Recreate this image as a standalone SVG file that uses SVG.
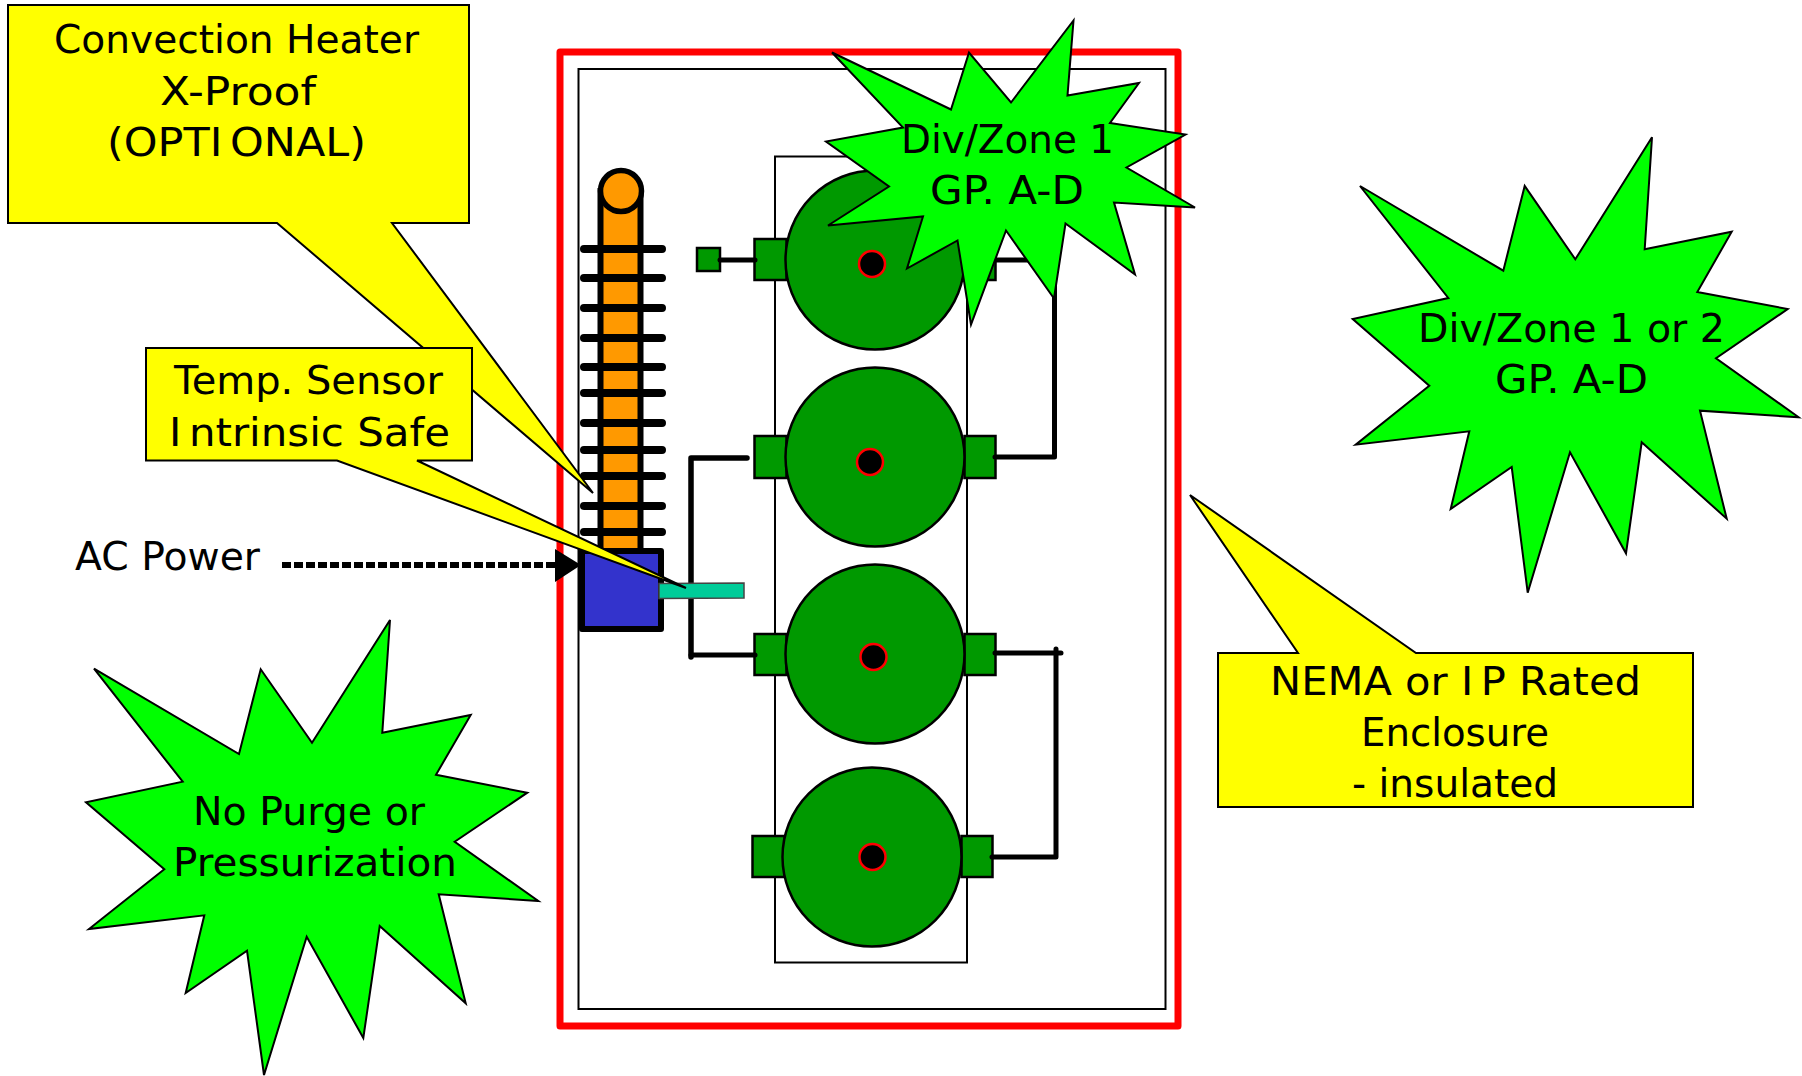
<svg xmlns="http://www.w3.org/2000/svg" width="1802" height="1076" viewBox="0 0 1802 1076">
<style>
.t{font-family:"DejaVu Sans","Liberation Sans",sans-serif;font-size:39px;fill:#000}
.co{fill:#ff0;stroke:#000;stroke-width:2;stroke-linejoin:miter}
.st{fill:#0f0;stroke:#000;stroke-width:2;stroke-linejoin:miter}
.mo{fill:#090;stroke:#000;stroke-width:2.5}
.hole{fill:#000;stroke:#f00;stroke-width:2.5}
.box{fill:none;stroke:#000;stroke-width:2}
.w{fill:none;stroke:#000;stroke-width:5;stroke-linecap:round;stroke-linejoin:round}
.fin{stroke:#000;stroke-width:8;stroke-linecap:round}
</style>
<rect width="1802" height="1076" fill="#fff"/>
<g id="enclosure">
<rect x="560" y="52" width="618" height="974" fill="none" stroke="#f00" stroke-width="7" stroke-linejoin="round"/>
<rect x="578.500" y="69" width="587" height="940" class="box"/>
<rect x="775" y="156.500" width="192" height="806" class="box"/>
</g>
<g id="motor1">
<rect x="754.500" y="239" width="32" height="41" class="mo"/><rect x="964.500" y="239" width="31" height="41" class="mo"/>
<circle cx="875" cy="260" r="89.5" class="mo"/><circle cx="872" cy="264" r="13" class="hole"/>
</g>
<g id="motor2">
<rect x="754.500" y="436" width="32" height="42" class="mo"/><rect x="964.500" y="436" width="31" height="42" class="mo"/>
<circle cx="875" cy="457" r="89.5" class="mo"/><circle cx="870" cy="462" r="13" class="hole"/>
</g>
<g id="motor3">
<rect x="754.500" y="634" width="32" height="41" class="mo"/><rect x="964.500" y="634" width="31" height="41" class="mo"/>
<circle cx="875" cy="654" r="89.5" class="mo"/><circle cx="873.500" cy="657" r="13" class="hole"/>
</g>
<g id="motor4">
<rect x="752.500" y="836" width="32" height="41" class="mo"/><rect x="961.500" y="836" width="31" height="41" class="mo"/>
<circle cx="872" cy="857" r="89.5" class="mo"/><circle cx="872.500" cy="857" r="13" class="hole"/>
</g>
<g id="small-box"><rect x="697" y="248" width="23" height="23" class="mo"/></g>
<g id="connectors">
<path class="w" d="M720 260H755"/>
<path class="w" d="M995 260H1054.500V457H995"/>
<path class="w" d="M995 653H1061M1056 649V857H992"/>
<path class="w" d="M747 458H691V657" style="stroke-width:5.500"/>
<path class="w" d="M691 655H755"/>
<path d="M282 565H556" fill="none" stroke="#000" stroke-width="6" stroke-dasharray="9 3"/>
<polygon points="555,549 581,565 555,582" fill="#000"/>
</g>
<g id="heater">
<rect x="600.500" y="191" width="40" height="360" fill="#f90" stroke="#000" stroke-width="6"/>
<circle cx="621" cy="191" r="20.500" fill="#f90" stroke="#000" stroke-width="5.500"/>
<path class="fin" d="M584 249H662M584 278H662M584 308H662M584 338H662M584 367H662M584 393H662M584 423H662M584 450H662M584 476H662M584 506H662M584 532H662"/>
</g>
<g id="control-box">
<rect x="582" y="551" width="79" height="78" fill="#33c" stroke="#000" stroke-width="6" stroke-linejoin="round"/>
</g>
<g id="temp-probe"><polygon points="659,583.500 744,583 744,598 659,598.500" fill="#0c9" stroke="#444" stroke-width="1.500"/></g>
<g id="ac-power"><text class="t" x="75" y="570" textLength="185" lengthAdjust="spacingAndGlyphs">AC Power</text></g>
<g id="callout-heater">
<polygon class="co" points="8,5 469,5 469,223 392,223 593,493 277,223 8,223"/>
<text class="t" x="54" y="53" textLength="365" lengthAdjust="spacingAndGlyphs">Convection Heater</text>
<text class="t" x="160" y="104.500" textLength="156" lengthAdjust="spacingAndGlyphs">X-Proof</text>
<text class="t" x="107" y="156" textLength="259" lengthAdjust="spacingAndGlyphs">(OPTI<tspan dx="7">O</tspan>NAL)</text>
</g>
<g id="callout-sensor">
<polygon class="co" points="146,348 472,348 472,460.500 417,460.500 686,588 337,460.500 146,460.500"/>
<text class="t" x="174" y="394" textLength="269" lengthAdjust="spacingAndGlyphs">Temp. Sensor</text>
<text class="t" x="169" y="445.500" textLength="281" lengthAdjust="spacingAndGlyphs">I<tspan dx="7">n</tspan>trinsic Safe</text>
</g>
<g id="callout-enclosure">
<polygon class="co" points="1218,653 1298,653 1190,495 1416,653 1693,653 1693,807 1218,807"/>
<text class="t" x="1270" y="695" textLength="371" lengthAdjust="spacingAndGlyphs">NEMA or I<tspan dx="7">P</tspan> Rated</text>
<text class="t" x="1361" y="746" textLength="188" lengthAdjust="spacingAndGlyphs">Enclosure</text>
<text class="t" x="1352" y="797" textLength="206" lengthAdjust="spacingAndGlyphs">- insulated</text>
</g>
<g id="burst-div1">
<polygon class="st" points="832,52.500 951,109.500 969,52.500 1011,102.500 1073.500,20.500 1067.500,95.500 1139,83 1110,123 1185.500,134.500 1126.500,167.500 1195,207.500 1114,202.500 1135,274.500 1065.500,223.500 1054,298.500 1006,230.500 971,324.500 957.500,240.500 907,268.500 923,216.500 828,225.500 889,186.500 826,141.500 903,127.500"/>
<text class="t" x="901" y="153" textLength="213" lengthAdjust="spacingAndGlyphs">Div/Zone 1</text>
<text class="t" x="930" y="204" textLength="154" lengthAdjust="spacingAndGlyphs">GP. A-D</text>
</g>
<g id="burst-div12">
<polygon class="st" points="1360,186 1503.300,270.700 1524.700,186 1575.300,259.300 1652,137.300 1644.700,249.300 1731.700,231.700 1697.300,292 1787.700,309 1716,358.300 1798.700,417.300 1700,410.700 1726.700,518.700 1641.700,442.300 1626,553.300 1570,452.300 1527.700,592.700 1511.700,467 1450.700,509 1469.300,431.300 1355.700,444.700 1429.300,385.700 1352.700,319 1448.300,298"/>
<text class="t" x="1418" y="342" textLength="307" lengthAdjust="spacingAndGlyphs">Div/Zone 1 or 2</text>
<text class="t" x="1495" y="393" textLength="153" lengthAdjust="spacingAndGlyphs">GP. A-D</text>
</g>
<g id="burst-purge">
<polygon class="st" points="94,668.700 239,754 260.700,669.300 312,742.700 390,620 382.300,732.700 470.700,715 436,774.700 527.300,792.700 454.700,841.700 538.300,901 438.700,894.300 465.700,1003.300 379.700,926 363.300,1038 306.700,936.700 264,1075 247,950.700 185.700,993 204.300,915.300 89,929 164.300,869.300 86,802.300 182.700,781.700"/>
<text class="t" x="193" y="825" textLength="232" lengthAdjust="spacingAndGlyphs">No Purge or</text>
<text class="t" x="173" y="876" textLength="284" lengthAdjust="spacingAndGlyphs">Pressurization</text>
</g>
</svg>
